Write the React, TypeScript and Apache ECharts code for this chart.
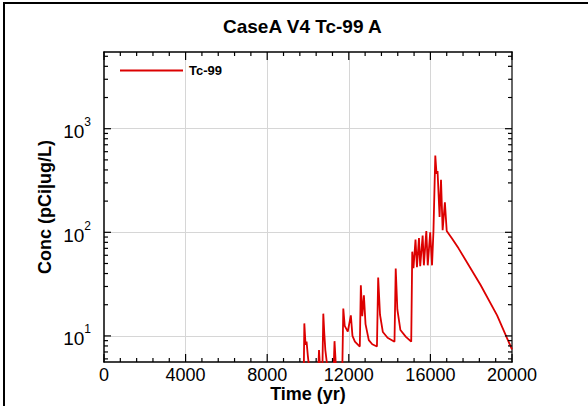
import React, { useEffect, useRef } from "react";
import * as echarts from "echarts";

const titleText = "CaseA V4 Tc-99 A";
const seriesName = "Tc-99";
const xName = "Time (yr)";
const yName = "Conc (pCi|ug/L)";

const times = [
  9700, 9790, 9820, 9880, 9930, 9990, 10080, 10200, 10480, 10540, 10600, 10700,
  10750, 10800, 10850, 10950, 11050, 11250, 11300, 11370, 11680, 11730, 11800,
  11950, 12100, 12180, 12300, 12540, 12590, 12660, 12740, 12820, 12980, 13150,
  13380, 13440, 13530, 13670, 13900, 14240, 14300, 14380, 14530, 14800, 15060,
  15110, 15170, 15270, 15340, 15440, 15500, 15620, 15680, 15800, 15870, 15990,
  16080, 16150, 16240, 16300, 16350, 16450, 16520, 16600, 16710, 16800, 17060,
  17380, 18460, 19270, 20000,
];
const conc = [
  1.5, 4, 13.2, 8.2, 8.8, 6.5, 4.5, 3.5, 3.5, 7.3, 4.5, 4,
  16.4, 10.5, 7.3, 5, 4.5, 4.3, 8.9, 5, 4.5, 18.4, 12.5,
  11, 15.8, 10, 8.8, 7.9, 30.8, 15.5, 24.6, 13, 9.1, 8.3,
  7.9, 36.6, 16, 10.9, 9.6, 8.8, 44.7, 18, 11.4, 9.8, 8.8,
  65, 45, 85, 46, 88, 47, 93, 48, 103, 48, 100,
  48, 103, 552, 368, 390, 141, 322, 105, 195, 103, 87,
  70, 31, 15.8, 7.4,
];

// axis tick values
const xMajorTicks = [0, 4000, 8000, 12000, 16000, 20000];
const xMinorTicks = [
  800, 1600, 2400, 3200, 4800, 5600, 6400, 7200, 8800, 9600, 10400, 11200,
  12800, 13600, 14400, 15200, 16800, 17600, 18400, 19200,
];
const yMajorTicks = [10, 100, 1000];
const yMinorTicks = [
  6, 7, 8, 9, 20, 30, 40, 50, 60, 70, 80, 90, 200, 300, 400, 500, 600, 700,
  800, 900, 2000, 3000, 4000, 5000,
];

const xMin = 0;
const xMax = 20000;
const xInterval = 4000;
const yMin = 5.6;
const yMax = 5500;

const FONT = "'Liberation Sans', Arial, Helvetica, sans-serif";
const RED = "#dc0000";

// inward tick marks drawn as thin rectangular symbols placed through the axes' scales
function tickSeries(values: number[], side: "bottom" | "top" | "left" | "right", len: number) {
  const w = 1.2;
  let data: number[][];
  let size: number[];
  let offset: number[];
  if (side === "bottom") {
    data = values.map((v) => [v, yMin]);
    size = [w, len];
    offset = [0, -len / 2];
  } else if (side === "top") {
    data = values.map((v) => [v, yMax]);
    size = [w, len];
    offset = [0, len / 2];
  } else if (side === "left") {
    data = values.map((v) => [xMin, v]);
    size = [len, w];
    offset = [len / 2, 0];
  } else {
    data = values.map((v) => [xMax, v]);
    size = [len, w];
    offset = [-len / 2, 0];
  }
  return {
    type: "scatter",
    silent: true,
    clip: false,
    z: 10,
    xAxisIndex: 0,
    yAxisIndex: 0,
    symbol: "rect",
    symbolSize: size,
    symbolOffset: offset,
    itemStyle: { color: "#000", opacity: 1 },
    emphasis: { disabled: true },
    data,
  };
}

export default function App() {
  const ref = useRef<HTMLDivElement>(null);
  useEffect(() => {
    if (!ref.current) return;
    const chart = echarts.init(ref.current, undefined, { renderer: "svg" });
    const isPow = (v: number) => {
      const e = Math.log10(v);
      return Math.abs(e - Math.round(e)) < 1e-6;
    };
    const yLabelFmt = (v: number) =>
      isPow(v) ? `{b|10}{s|${Math.round(Math.log10(v))}}` : "";
    const option: any = {
      animation: false,
      backgroundColor: "#fff",
      title: {
        text: titleText,
        left: 218,
        top: 12,
        textStyle: { fontFamily: FONT, fontSize: 19, fontWeight: "bold", color: "#000" },
      },
      legend: {
        show: true,
        left: 115,
        top: 59,
        icon: "rect",
        itemWidth: 63,
        itemHeight: 2,
        textStyle: { fontFamily: FONT, fontSize: 13, fontWeight: "bold", color: "#000", padding: [0, 0, 0, 1] },
        data: [seriesName],
      },
      grid: { left: 104, right: 76, top: 52, bottom: 44, outerBoundsMode: "none", containLabel: false },
      xAxis: [
        {
          type: "value",
          min: xMin,
          max: xMax,
          interval: xInterval,
          position: "bottom",
          name: xName,
          nameLocation: "middle",
          nameGap: 23,
          nameMoveOverlap: false,
          nameTextStyle: { fontFamily: FONT, fontSize: 18, fontWeight: "bold", color: "#000" },
          axisLine: { show: true, onZero: false, lineStyle: { color: "#000", width: 1.5 } },
          axisTick: { show: false },
          splitLine: { show: true, showMinLine: false, showMaxLine: false, lineStyle: { color: "#d6d6d6", width: 1 } },
          axisLabel: { fontFamily: FONT, fontSize: 18, color: "#000", margin: 4, formatter: (v: number) => String(v) },
        },
        {
          type: "value",
          min: xMin,
          max: xMax,
          interval: xInterval,
          position: "top",
          axisLine: { show: true, onZero: false, lineStyle: { color: "#000", width: 1.5 } },
          axisTick: { show: false },
          splitLine: { show: false },
          axisLabel: { show: false },
        },
      ],
      yAxis: [
        {
          type: "log",
          logBase: 10,
          min: yMin,
          max: yMax,
          position: "left",
          name: yName,
          nameLocation: "middle",
          nameGap: 50,
          nameMoveOverlap: false,
          nameTextStyle: { fontFamily: FONT, fontSize: 18, fontWeight: "bold", color: "#000" },
          axisLine: { show: true, onZero: false, lineStyle: { color: "#000", width: 1.5 } },
          axisTick: { show: false },
          splitLine: { show: true, showMinLine: false, showMaxLine: false, lineStyle: { color: "#d6d6d6", width: 1 } },
          axisLabel: {
            margin: 13,
            formatter: yLabelFmt,
            rich: {
              b: { fontFamily: FONT, fontSize: 19, color: "#000", padding: [6, 0, 0, 0] },
              s: { fontFamily: FONT, fontSize: 12, color: "#000", verticalAlign: "top" },
            },
          },
        },
        {
          type: "log",
          logBase: 10,
          min: yMin,
          max: yMax,
          position: "right",
          axisLine: { show: true, onZero: false, lineStyle: { color: "#333", width: 1.5 } },
          axisTick: { show: false },
          splitLine: { show: false },
          axisLabel: { show: false },
        },
      ],
      series: [
        {
          name: seriesName,
          type: "line",
          xAxisIndex: 0,
          yAxisIndex: 0,
          data: times.map((t, i) => [t, conc[i]]),
          showSymbol: false,
          symbol: "none",
          clip: true,
          lineStyle: { color: RED, width: 1.8 },
          itemStyle: { color: RED },
        },
        tickSeries(xMajorTicks, "bottom", 8),
        tickSeries(xMinorTicks, "bottom", 4),
        tickSeries(xMajorTicks, "top", 8),
        tickSeries(xMinorTicks, "top", 4),
        tickSeries(yMajorTicks, "left", 7),
        tickSeries(yMinorTicks, "left", 4),
        tickSeries(yMajorTicks, "right", 7),
        tickSeries(yMinorTicks, "right", 4),
      ],
    };
    chart.setOption(option);
    return () => chart.dispose();
  }, []);
  return (
    <div style={{ position: "fixed", left: 0, top: 0, width: 588, height: 406 }}>
      <div
        ref={ref}
        style={{ position: "absolute", left: 0, top: 0, width: 588, height: 406 }}
      />
      <div
        style={{
          position: "absolute",
          left: 3,
          top: 2,
          width: 700,
          height: 700,
          borderLeft: "2.5px solid #000",
          borderTop: "2.5px solid #000",
          pointerEvents: "none",
        }}
      />
    </div>
  );
}
